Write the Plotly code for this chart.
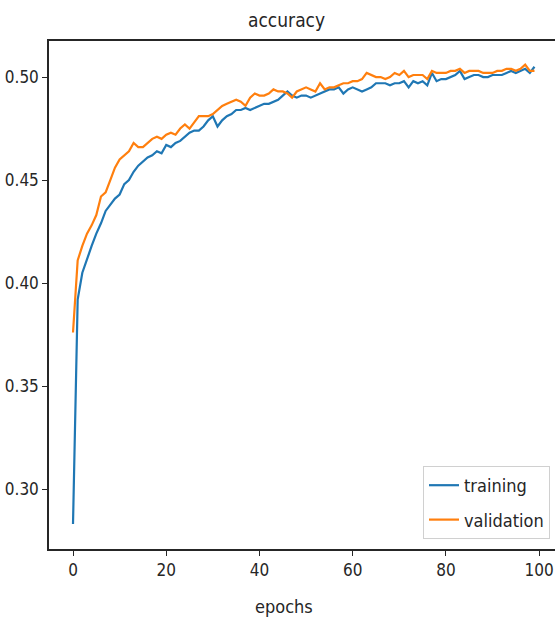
import plotly.graph_objects as go

epochs = list(range(100))

training = [
    0.283, 0.392, 0.405, 0.412, 0.418, 0.424, 0.429, 0.435, 0.438, 0.441,
    0.443, 0.448, 0.450, 0.454, 0.457, 0.459, 0.461, 0.462, 0.464, 0.463,
    0.467, 0.466, 0.468, 0.469, 0.471, 0.473, 0.474, 0.474, 0.476, 0.479,
    0.481, 0.476, 0.479, 0.481, 0.482, 0.484, 0.484, 0.485, 0.484, 0.485,
    0.486, 0.487, 0.487, 0.488, 0.489, 0.491, 0.493, 0.491, 0.490, 0.491,
    0.491, 0.490, 0.491, 0.492, 0.493, 0.494, 0.494, 0.495, 0.492, 0.494,
    0.495, 0.494, 0.493, 0.494, 0.495, 0.497, 0.497, 0.497, 0.496, 0.497,
    0.497, 0.498, 0.495, 0.498, 0.497, 0.498, 0.496, 0.502, 0.498, 0.499,
    0.499, 0.500, 0.501, 0.503, 0.499, 0.500, 0.501, 0.501, 0.500, 0.500,
    0.501, 0.501, 0.501, 0.502, 0.503, 0.502, 0.503, 0.504, 0.502, 0.505,
]

validation = [
    0.376, 0.411, 0.418, 0.424, 0.428, 0.433, 0.442, 0.444, 0.450, 0.456,
    0.460, 0.462, 0.464, 0.468, 0.466, 0.466, 0.468, 0.470, 0.471, 0.470,
    0.472, 0.473, 0.472, 0.475, 0.477, 0.475, 0.478, 0.481, 0.481, 0.481,
    0.482, 0.484, 0.486, 0.487, 0.488, 0.489, 0.488, 0.486, 0.490, 0.492,
    0.491, 0.491, 0.492, 0.494, 0.493, 0.493, 0.492, 0.490, 0.493, 0.494,
    0.495, 0.494, 0.493, 0.497, 0.494, 0.495, 0.495, 0.496, 0.497, 0.497,
    0.498, 0.498, 0.499, 0.502, 0.501, 0.500, 0.500, 0.499, 0.500, 0.502,
    0.501, 0.503, 0.500, 0.501, 0.501, 0.501, 0.499, 0.503, 0.502, 0.502,
    0.502, 0.503, 0.503, 0.504, 0.502, 0.503, 0.503, 0.503, 0.502, 0.502,
    0.502, 0.503, 0.503, 0.504, 0.504, 0.503, 0.504, 0.506, 0.503, 0.503,
]

x_ticks = [0, 20, 40, 60, 80, 100]
y_ticks = [0.30, 0.35, 0.40, 0.45, 0.50]
y_tick_labels = ["0.30", "0.35", "0.40", "0.45", "0.50"]

FONT = "Liberation Sans Narrow, DejaVu Sans Condensed, Roboto Condensed, DejaVu Sans, sans-serif"
INK = "#262626"

L, R, T, B = 49, 0, 41, 71
W, H = 555, 620

fig = go.Figure()
fig.add_trace(go.Scatter(x=epochs, y=training, mode="lines", name="training",
                         legendgroup="a",
                         line=dict(color="#1f77b4", width=2.2)))
fig.add_trace(go.Scatter(x=epochs, y=validation, mode="lines", name="validation",
                         legendgroup="b",
                         line=dict(color="#ff7f0e", width=2.2)))

pw = W - L - R
ph = H - T - B


def px_to_paper(px, py):
    return (px - L) / pw, (H - B - py) / ph


tx, ty = px_to_paper(286, 20)
ex, ey = px_to_paper(284, 606)
lx, ly = px_to_paper(550, 539)

fig.update_layout(
    width=W, height=H,
    margin=dict(l=L, r=R, t=T, b=B, autoexpand=False),
    paper_bgcolor="white", plot_bgcolor="white",
    font=dict(family=FONT, size=17, color=INK),
    showlegend=True,
    legend=dict(x=lx, xanchor="right", y=ly, yanchor="bottom",
                bgcolor="rgba(255,255,255,0.85)", bordercolor="#d0d0d0", borderwidth=1,
                font=dict(family=FONT, size=18, color=INK),
                traceorder="grouped", tracegroupgap=8,
                itemwidth=30),
    xaxis=dict(range=[-5.15, 103.4], tickvals=x_ticks, ticks="outside", ticklen=5,
               tickcolor=INK, showgrid=False, zeroline=False, automargin=False,
               showline=True, linecolor=INK, linewidth=1.5, mirror=True,
               tickfont=dict(family=FONT, size=17)),
    yaxis=dict(range=[0.2709, 0.5175], tickvals=y_ticks, ticktext=y_tick_labels,
               ticks="outside", ticklen=5, tickcolor=INK, showgrid=False,
               zeroline=False, showline=True, linecolor=INK, linewidth=1.5,
               mirror=True, automargin=False, tickfont=dict(family=FONT, size=17)),
    annotations=[
        dict(text="accuracy", x=tx, y=ty, xref="paper", yref="paper",
             xanchor="center", yanchor="middle",
             showarrow=False, font=dict(family=FONT, size=19, color=INK)),
        dict(text="epochs", x=ex, y=ey, xref="paper", yref="paper",
             xanchor="center", yanchor="middle", showarrow=False,
             font=dict(family=FONT, size=18, color=INK)),
    ],
)

fig.write_html("out.html",
               config={"displayModeBar": False},
               post_script="document.body.style.margin='0';document.body.style.overflow='hidden';")
